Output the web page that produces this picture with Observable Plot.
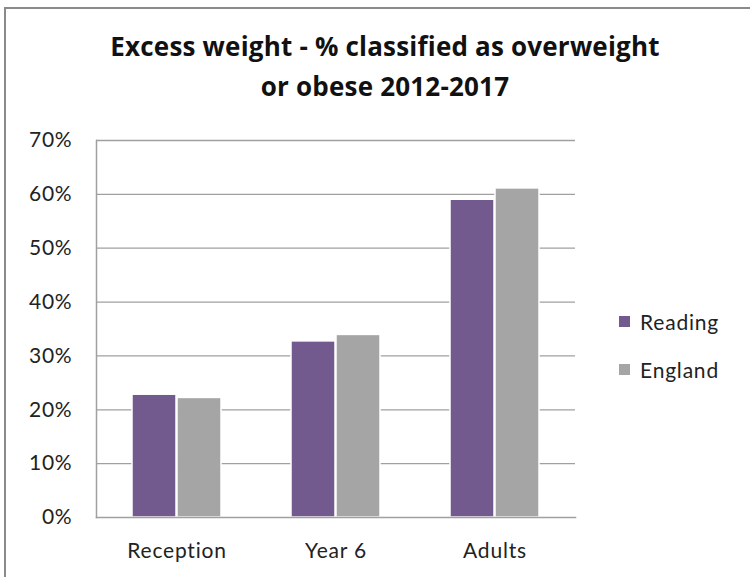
<!DOCTYPE html>
<html>
<head>
<meta charset="utf-8">
<script src="https://cdn.jsdelivr.net/npm/d3@7"></script>
<script src="https://cdn.jsdelivr.net/npm/@observablehq/plot@0.6"></script>
<style>
  html, body { margin: 0; padding: 0; background: #fff; }
  #frame { position: relative; width: 750px; height: 577px; overflow: hidden; font-family: Lato, "Open Sans", sans-serif; }
  #border { position: absolute; left: 4px; top: 7px; width: 800px; height: 700px; border-left: 2px solid #8a8a8a; border-top: 2px solid #8a8a8a; }
  #title { position: absolute; left: 0; top: 26px; width: 770px; text-align: center; font-family: "Open Sans", sans-serif; font-weight: bold; font-size: 26px; line-height: 40px; color: #111; letter-spacing: 0.2px; }
  #chart { position: absolute; left: 0; top: 0; }
  #chart svg text { letter-spacing: 0.8px; }
  .leg { position: absolute; left: 619px; font-size: 21px; color: #222; display: flex; align-items: center; letter-spacing: 0.8px; }
  .leg span.sw { width: 11px; height: 11px; margin-right: 10px; display: inline-block; }
</style>
</head>
<body>
<div id="frame">
  <div id="border"></div>
  <div id="chart"></div>
  <div id="title">Excess weight - % classified as overweight<br>or obese 2012-2017</div>
  <div id="legend"></div>
</div>
<script>
const categories = ["Reception", "Year 6", "Adults"];
const seriesNames = ["Reading", "England"];
const readingValues = [0.228, 0.327, 0.590];
const englandValues = [0.222, 0.339, 0.611];
const colors = ["#725a8e", "#a5a5a5"];
const yTicks = [0, 0.1, 0.2, 0.3, 0.4, 0.5, 0.6, 0.7];

const reading = categories.map((c, i) => ({cat: c, series: seriesNames[0], value: readingValues[i]}));
const england = categories.map((c, i) => ({cat: c, series: seriesNames[1], value: englandValues[i]}));

const plot = Plot.plot({
  width: 750,
  height: 577,
  marginLeft: 96,
  marginRight: 175,
  marginTop: 140,
  marginBottom: 60,
  style: {fontFamily: "Lato, 'Open Sans', sans-serif", fontSize: "21px", color: "#222", background: "transparent"},
  x: {domain: categories, padding: 0, label: null},
  y: {domain: [0, 0.7], label: null},
  color: {domain: seriesNames, range: colors},
  marks: [
    Plot.ruleY(yTicks.slice(1), {stroke: "#a0a0a0", strokeWidth: 1.3}),
    Plot.barY(reading, {x: "cat", y: "value", fill: "series", stroke: "#ffffff", strokeWidth: 1.5, insetLeft: 35, insetRight: 80}),
    Plot.barY(england, {x: "cat", y: "value", fill: "series", stroke: "#ffffff", strokeWidth: 1.5, insetLeft: 80, insetRight: 35}),
    Plot.frame({anchor: "left", stroke: "#a0a0a0", strokeWidth: 1.5}),
    Plot.frame({anchor: "bottom", stroke: "#a0a0a0", strokeWidth: 1.5}),
    Plot.axisY({ticks: yTicks, tickFormat: d3.format(".0%"), tickSize: 0, tickPadding: 24, fontSize: 21, label: null}),
    Plot.axisX({tickSize: 0, tickPadding: 26, fontSize: 21, label: null})
  ]
});
document.getElementById("chart").appendChild(plot);

const legend = document.getElementById("legend");
seriesNames.forEach((s, i) => {
  const d = document.createElement("div");
  d.className = "leg";
  d.style.top = (309 + i * 48) + "px";
  d.innerHTML = `<span class="sw" style="background:${colors[i]}"></span>${s}`;
  legend.appendChild(d);
});
</script>
</body>
</html>
